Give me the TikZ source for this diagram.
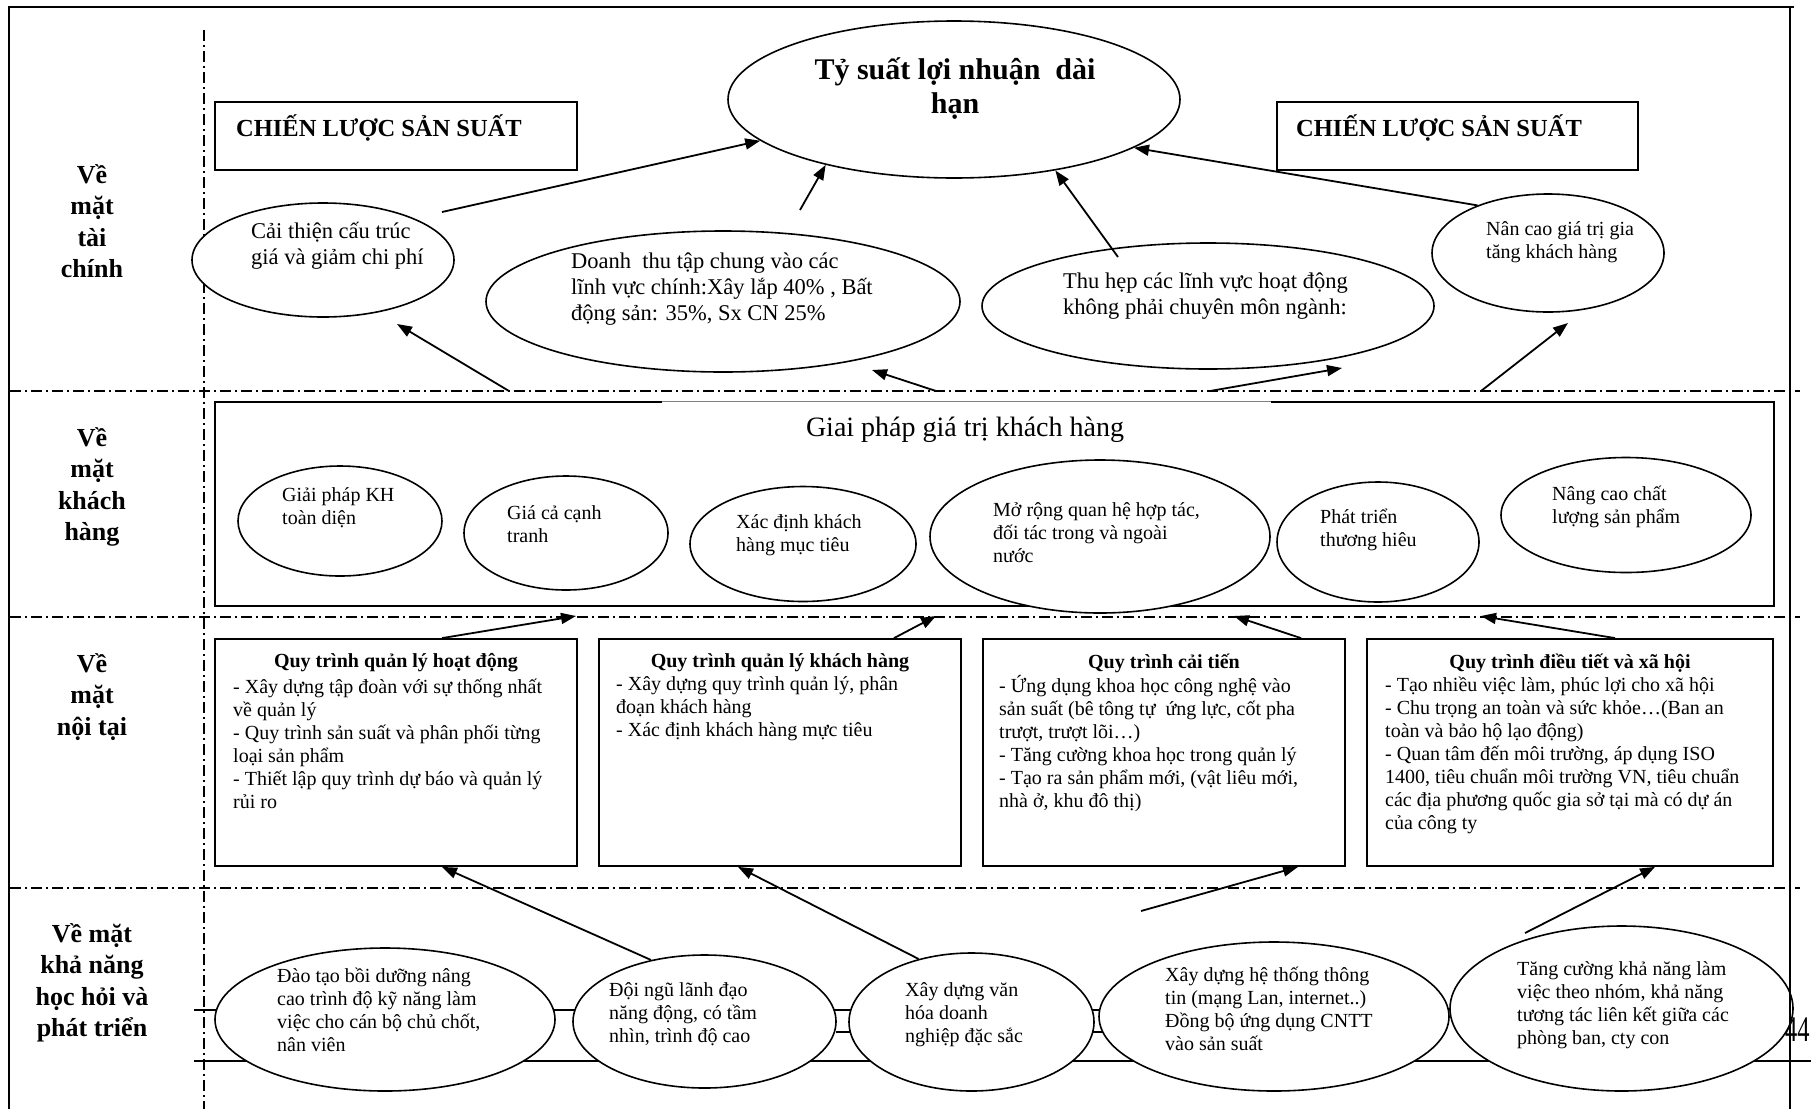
\documentclass[tikz,border=0pt]{standalone}
\usepackage{fontspec}
\setmainfont{Liberation Serif}
\usetikzlibrary{shapes.geometric,arrows.meta}

\begin{document}
\begin{tikzpicture}[x=1pt,y=-1pt,
  frame/.style={line width=1.8pt},
  sepline/.style={line width=1.4pt, dash pattern=on 11pt off 4pt on 2pt off 4pt},
  ell/.style={draw, ellipse, line width=1.6pt, fill=white, inner sep=0pt},
  box/.style={draw, rectangle, line width=1.8pt, inner sep=0pt},
  arr/.style={line width=1.8pt, -{Triangle[length=15pt,width=11pt]}},
  lbl/.style={font=\fontsize{26}{31.5}\selectfont\bfseries, align=center, inner sep=0pt},
  bigtxt/.style={font=\fontsize{22.5}{25.6}\selectfont, align=left, inner sep=0pt, anchor=west},
  smltxt/.style={font=\fontsize{20}{23}\selectfont, align=left, inner sep=0pt, anchor=west},
  boxhead/.style={font=\fontsize{20}{23}\selectfont\bfseries, inner sep=0pt},
  strat/.style={font=\fontsize{24.5}{28}\selectfont\bfseries, inner sep=0pt, anchor=west}
]
\useasboundingbox (0,0) rectangle (1811,1109);

% outer frame (top and left; the right edge is drawn last)
\draw[frame] (9,1109) -- (9,7) -- (1794,7);

% perspective separators
\draw[sepline] (204,30) -- (204,1109);
\draw[sepline] (10,391) -- (1800,391);
\draw[sepline] (10,617) -- (1800,617);
\draw[sepline] (10,888) -- (1800,888);

% rails behind the learning ellipses
\draw[line width=1.8pt] (194,1061) -- (1811,1061);
\draw[line width=1.8pt] (194,1010) -- (1458,1010);
\draw[line width=1.8pt] (836,1032) -- (1106,1032);

% row labels
\node[lbl] (lfin) at (92,221) {Về\\mặt\\tài\\chính};
\node[lbl] (lcus) at (92,487) {Về\\mặt\\khách\\hàng};
\node[lbl] (lint) at (92,697) {Về\\mặt\\nội tại};
\node[lbl] (llea) at (92,983) {Về mặt\\khả năng\\học hỏi và\\phát triển};

% ---------- financial row ----------
\node[ell, minimum width=452pt, minimum height=157pt] (goal) at (954,99.5) {};
\node[font=\fontsize{30}{34.5}\selectfont\bfseries, align=center, inner sep=0pt] (goaltxt) at (955,88.5) {Tỷ suất lợi nhuận\ \ dài\\hạn};

\node[box, minimum width=362pt, minimum height=68pt] (stratl) at (396,136) {};
\node[strat] (stratltxt) at (236,128) {CHIẾN LƯỢC SẢN SUẤT};
\node[box, minimum width=361pt, minimum height=68pt] (stratr) at (1457.5,136) {};
\node[strat] (stratrtxt) at (1296,128) {CHIẾN LƯỢC SẢN SUẤT};

\node[ell, minimum width=262pt, minimum height=114pt] (e1) at (323,260) {};
\node[bigtxt] (e1txt) at (251,245.5) {Cải thiện cấu trúc\\giá và giảm chi phí};
\node[ell, minimum width=474pt, minimum height=141pt] (e2) at (723,301.5) {};
\node[bigtxt] (e2txt) at (571,289) {Doanh\ \ thu tập chung vào các\\lĩnh vực chính:Xây lắp 40\% , Bất\\động sản: 35\%, Sx CN 25\%};
\node[ell, minimum width=452pt, minimum height=126pt] (e3) at (1208,306) {};
\node[bigtxt] (e3txt) at (1063,296) {Thu hẹp các lĩnh vực hoạt động\\không phải chuyên môn ngành:};
\node[ell, minimum width=232pt, minimum height=118pt] (e4) at (1548,253) {};
\node[smltxt] (e4txt) at (1486,242.5) {Nân cao giá trị gia\\tăng khách hàng};

% ---------- customer row ----------
\node[minimum width=1559pt, minimum height=204pt, inner sep=0pt] (cbox) at (994.5,504) {};
\draw[frame] ([xshift=447pt]cbox.north west) -- (cbox.north west) -- (cbox.south west)
  -- (cbox.south east) -- (cbox.north east) -- ([xshift=-503pt]cbox.north east);
\draw[gray, line width=1pt] ([xshift=447pt]cbox.north west) -- ([xshift=-503pt]cbox.north east);
\node[font=\fontsize{28}{32}\selectfont, inner sep=0pt] (cboxtitle) at (965,430) {Giai pháp giá trị khách hàng};

\node[ell, minimum width=204pt, minimum height=110pt] (c1) at (340,521) {};
\node[smltxt] (c1txt) at (282,507.5) {Giải pháp KH\\toàn diện};
\node[ell, minimum width=204pt, minimum height=114pt] (c2) at (566,533) {};
\node[smltxt] (c2txt) at (507,524.5) {Giá cả cạnh\\tranh};
\node[ell, minimum width=226pt, minimum height=115pt] (c3) at (803,544) {};
\node[smltxt] (c3txt) at (736,535.5) {Xác định khách\\hàng mục tiêu};
\node[ell, minimum width=340pt, minimum height=153pt] (c4) at (1100,536.5) {};
\node[smltxt] (c4txt) at (993,533) {Mở rộng quan hệ hợp tác,\\đối tác trong và ngoài\\nước};
\node[ell, minimum width=202pt, minimum height=120pt] (c5) at (1378,542) {};
\node[smltxt] (c5txt) at (1320,530) {Phát triển\\thương hiêu};
\node[ell, minimum width=250pt, minimum height=115pt] (c6) at (1626,515) {};
\node[smltxt] (c6txt) at (1552,507) {Nâng cao chất\\lượng sản phẩm};

% ---------- internal process row ----------
\node[box, minimum width=362pt, minimum height=227pt] (b1) at (396,752.5) {};
\node[boxhead] (b1head) at (396,663) {Quy trình quản lý hoạt động};
\node[smltxt] (b1txt) at (233,744) {- Xây dựng tập đoàn với sự thống nhất\\về quản lý\\- Quy trình sản suất và phân phối từng\\loại sản phẩm\\- Thiết lập quy trình dự báo và quản lý\\rủi ro};

\node[box, minimum width=362pt, minimum height=227pt] (b2) at (780,752.5) {};
\node[boxhead] (b2head) at (780,663) {Quy trình quản lý khách hàng};
\node[smltxt] (b2txt) at (616,709) {- Xây dựng quy trình quản lý, phân\\đoạn khách hàng\\- Xác định khách hàng mực tiêu};

\node[box, minimum width=362pt, minimum height=227pt] (b3) at (1164,752.5) {};
\node[boxhead] (b3head) at (1164,663) {Quy trình cải tiến};
\node[smltxt] (b3txt) at (999,744) {- Ứng dụng khoa học công nghệ vào\\sản suất (bê tông tự\ \ ứng lực, cốt pha\\trượt, trượt lõi…)\\- Tăng cường khoa học trong quản lý\\- Tạo ra sản phẩm mới, (vật liêu mới,\\nhà ở, khu đô thị)};

\node[box, minimum width=406pt, minimum height=227pt] (b4) at (1570,752.5) {};
\node[boxhead] (b4head) at (1570,663) {Quy trình điều tiết và xã hội};
\node[smltxt] (b4txt) at (1385,755.5) {- Tạo nhiều việc làm, phúc lợi cho xã hội\\- Chu trọng an toàn và sức khỏe…(Ban an\\toàn và bảo hộ lạo động)\\- Quan tâm đến môi trường, áp dụng ISO\\1400, tiêu chuẩn môi trường VN, tiêu chuẩn\\các địa phương quốc gia sở tại mà có dự án\\của công ty};

% ---------- learning and growth row ----------
\node[ell, minimum width=340pt, minimum height=143pt] (l1) at (385,1019.5) {};
\node[smltxt] (l1txt) at (277,1010) {Đào tạo bồi dưỡng nâng\\cao trình độ kỹ năng làm\\việc cho cán bộ chủ chốt,\\nân viên};
\node[ell, minimum width=263pt, minimum height=133pt] (l2) at (704.5,1021.5) {};
\node[smltxt] (l2txt) at (609,1014) {Đội ngũ lãnh đạo\\năng động, có tầm\\nhìn, trình độ cao};
\node[ell, minimum width=245pt, minimum height=138pt] (l3) at (971.5,1022) {};
\node[smltxt] (l3txt) at (905,1015) {Xây dựng văn\\hóa doanh\\nghiệp đặc sắc};
\node[ell, minimum width=350pt, minimum height=149pt] (l4) at (1274,1016.5) {};
\node[smltxt] (l4txt) at (1165,1009) {Xây dựng hệ thống thông\\tin (mạng Lan, internet..)\\Đồng bộ ứng dụng CNTT\\vào sản suất};
\node[ell, minimum width=343pt, minimum height=165pt] (l5) at (1621.5,1008.5) {};
\node[smltxt] (l5txt) at (1517,1005.5) {Tăng cường khả năng làm\\việc theo nhóm, khả năng\\tương tác liên kết giữa các\\phòng ban, cty con};

% right edge of the frame and the page number
\draw[frame] (1790,7) -- (1790,1109);
\node[anchor=west, inner sep=0pt] (pgnum) at (1785,1030) {\scalebox{0.68}[1]{\fontsize{36}{40}\selectfont 44}};

% ---------- free arrow ends ----------
\coordinate (a1s) at (442,212);
\coordinate (a2s) at (800,210);
\coordinate (a3s) at (1118,257);
\coordinate (b1s) at (509,391);  \coordinate (b1e) at (397,324);
\coordinate (b2s) at (936,391);  \coordinate (b2e) at (872,370);
\coordinate (b3s) at (1210,391); \coordinate (b3e) at (1342,368);
\coordinate (b4s) at (1481,391); \coordinate (b4e) at (1568,323);
\coordinate (d1e) at (576,616);
\coordinate (d2e) at (936,616);
\coordinate (d3e) at (1234,616);
\coordinate (d4e) at (1481,616);
\coordinate (f3s) at (1141,911);
\coordinate (f4s) at (1525,933);

% ---------- arrows ----------
% financial results feed the long-term profit goal
\draw[arr] (a1s) -- (goal.192.7);
\draw[arr] (a2s) -- (goal.207.8);
\draw[arr] (a3s) -- (goal.325.2);
\draw[arr] (e4.146.9) -- (goal.345);
% customer perspective feeds the financial results
\draw[arr] (b1s) -- (b1e);
\draw[arr] (b2s) -- (b2e);
\draw[arr] (b3s) -- (b3e);
\draw[arr] (b4s) -- (b4e);
% internal processes feed the customer solution
\draw[arr] ([xshift=46pt]b1.north) -- (d1e);
\draw[arr] ([xshift=114pt]b2.north) -- (d2e);
\draw[arr] ([xshift=137pt]b3.north) -- (d3e);
\draw[arr] ([xshift=45pt]b4.north) -- (d4e);
% learning and growth feed the internal processes
\draw[arr] (l2.131.8) -- ([xshift=46pt]b1.south);
\draw[arr] (l3.130.1) -- ([xshift=-42pt]b2.south);
\draw[arr] (f3s) -- ([xshift=134pt]b3.south);
\draw[arr] (f4s) -- ([xshift=85pt]b4.south);
\end{tikzpicture}
\end{document}
